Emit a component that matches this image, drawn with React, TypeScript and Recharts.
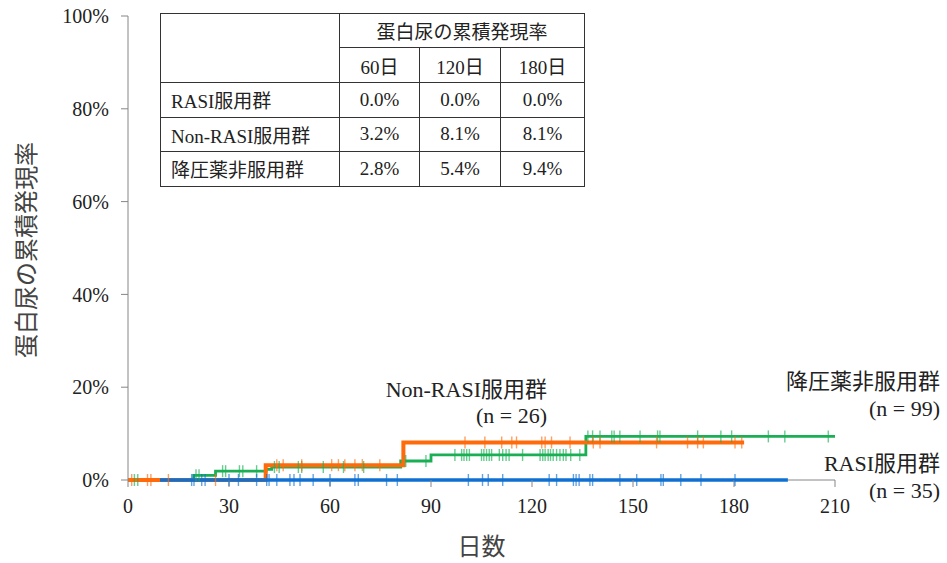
import React from 'react';
import { ComposedChart, Line, Scatter, XAxis, YAxis, Label } from 'recharts';

const FONT = "'Liberation Serif', 'Noto Sans CJK JP', serif";

// step curves: cumulative incidence (%) from each day onward
const rasiSteps = [
  { day: 9.5, pct: 0 },
  { day: 196, pct: 0 },
];
const nonRasiSteps = [
  { day: 0, pct: 0 },
  { day: 40.9, pct: 3.2 },
  { day: 81.8, pct: 8.1 },
  { day: 183, pct: 8.1 },
];
const noDrugSteps = [
  { day: 0, pct: 0 },
  { day: 19.5, pct: 1.0 },
  { day: 26, pct: 1.9 },
  { day: 41, pct: 2.3 },
  { day: 42.7, pct: 2.8 },
  { day: 81, pct: 4.1 },
  { day: 90, pct: 5.4 },
  { day: 136, pct: 9.4 },
  { day: 210, pct: 9.4 },
];

// censored observations (days)
const rasiCensor = [
  18.9, 19.6, 21.9, 22.9, 30.0, 32.8, 38.2, 41.2, 41.9, 44.2, 48.1, 49.3, 51.1, 55.0, 60.0, 67.4,
  68.4, 76.8, 80.0, 101.1, 105.3, 107.0, 111.3, 125.1, 127.3, 132.3, 133.1, 134.0, 137.2, 138.0,
  146.1, 151.1, 158.3, 159.0, 164.2, 170.2, 180.3,
];
const nonRasiCensor = [
  1.1, 5.8, 6.8, 12.0, 26.0, 44.2, 46.1, 51.6, 60.5, 62.5, 64.4, 67.4, 69.6, 74.8, 100.1, 106,
  111, 114, 115.4, 122.9, 123.9, 125.8, 131.3, 138.2, 140.2, 157, 166.2, 169.2, 170.9, 180.3, 182.3,
];
const noDrugCensor = [
  1.9, 2.9, 20.2, 21.1, 28.1, 29.0, 33.1, 34.1, 38.2, 43.5, 44.9, 50.6, 51.6, 58, 64, 70, 82.5,
  88.5, 97.1, 99.1, 99.8, 100.6, 101.4, 105.0, 105.7, 106.5, 107.3, 108.0, 110.3, 111.3, 112.3,
  113.2, 117.2, 122.4, 123.2, 123.9, 124.8, 125.5, 126.3, 127.3, 128.3, 129.3, 130.1, 131.5,
  134.2, 136.6, 138, 140.2, 143.7, 144.4, 146.1, 152.1, 157.3, 158.0, 169.2, 176.1, 179.3, 190.2,
  195.1, 208,
];

const xTicks = [0, 30, 60, 90, 120, 150, 180, 210];
const yTicks = [0, 20, 40, 60, 80, 100];
const baseline = [
  { day: 0, pct: 0 },
  { day: 210, pct: 0 },
];

// summary table
const tableTitle = '蛋白尿の累積発現率';
const tableDays = ['60日', '120日', '180日'];
const tableGroups = ['RASI服用群', 'Non-RASI服用群', '降圧薬非服用群'];
const tableRates = [
  ['0.0%', '0.0%', '0.0%'],
  ['3.2%', '8.1%', '8.1%'],
  ['2.8%', '5.4%', '9.4%'],
];

const BLUE = '#0f70d2';
const ORANGE = '#ff6a0a';
const GREEN = '#1aaf54';
const AXIS = '#868686';

const levelAt = (steps: { day: number; pct: number }[], day: number) => {
  let v = steps[0].pct;
  for (const s of steps) if (s.day <= day) v = s.pct;
  return v;
};

const censorPoints = (steps: { day: number; pct: number }[], days: number[]) =>
  days.map((d) => ({ day: d, pct: levelAt(steps, d) }));

const tickMark = (color: string) => (props: any) => {
  const { cx, cy } = props;
  return <line x1={cx} x2={cx} y1={cy - 6} y2={cy + 6} stroke={color} strokeWidth={1.4} strokeOpacity={0.65} />;
};

const cell: React.CSSProperties = {
  border: '1px solid #333',
  textAlign: 'center',
  padding: 0,
  fontSize: 19,
  color: '#222',
};

const note = (text: string, right: number, cy: number) => (
  <div
    style={{
      position: 'absolute',
      right,
      top: cy - 13,
      height: 26,
      lineHeight: '26px',
      fontSize: 22,
      color: '#222',
      whiteSpace: 'nowrap',
    }}
  >
    {text}
  </div>
);

export default function App() {
  const tickStyle = { fontSize: 20, fill: '#222', fontFamily: FONT };
  return (
    <div style={{ position: 'absolute', left: 0, top: 0, width: 947, height: 563, background: '#fff', fontFamily: FONT }}>
      <ComposedChart width={947} height={563} margin={{ top: 16, right: 112, bottom: 0, left: 0 }}>
        <XAxis
          type="number"
          dataKey="day"
          domain={[0, 210]}
          ticks={xTicks}
          height={83}
          tickSize={7}
          tickMargin={12}
          stroke={AXIS}
          axisLine={false}
          tick={tickStyle}
        >
          <Label
            content={(p: any) => (
              <text
                x={p.viewBox.x + p.viewBox.width / 2}
                y={547}
                textAnchor="middle"
                dominantBaseline="central"
                fontSize={24}
                fill="#444"
                fontFamily={FONT}
              >
                日数
              </text>
            )}
          />
        </XAxis>
        <YAxis
          type="number"
          dataKey="pct"
          domain={[0, 100]}
          ticks={yTicks}
          width={128}
          tickSize={7}
          tickMargin={12}
          stroke={AXIS}
          tick={tickStyle}
          tickFormatter={(v: number) => `${v}%`}
        >
          <Label
            content={(p: any) => {
              const cy = p.viewBox.y + p.viewBox.height / 2 + 2;
              return (
                <text
                  x={27}
                  y={cy}
                  transform={`rotate(-90 27 ${cy})`}
                  textAnchor="middle"
                  dominantBaseline="central"
                  fontSize={24}
                  fill="#444"
                  fontFamily={FONT}
                >
                  蛋白尿の累積発現率
                </text>
              );
            }}
          />
        </YAxis>
        {/* x axis baseline kept underneath the curves */}
        <Line data={baseline} dataKey="pct" stroke={AXIS} strokeWidth={1} dot={false} isAnimationActive={false} />
        <Line data={noDrugSteps} dataKey="pct" type="stepAfter" stroke={GREEN} strokeWidth={2.8} dot={false} isAnimationActive={false} />
        <Line data={nonRasiSteps} dataKey="pct" type="stepAfter" stroke={ORANGE} strokeWidth={4} dot={false} isAnimationActive={false} />
        <Line data={rasiSteps} dataKey="pct" type="stepAfter" stroke={BLUE} strokeWidth={3.6} dot={false} isAnimationActive={false} />
        <Scatter data={censorPoints(noDrugSteps, noDrugCensor)} dataKey="pct" shape={tickMark(GREEN)} isAnimationActive={false} />
        <Scatter data={censorPoints(nonRasiSteps, nonRasiCensor)} dataKey="pct" shape={tickMark(ORANGE)} isAnimationActive={false} />
        <Scatter data={censorPoints(rasiSteps, rasiCensor)} dataKey="pct" shape={tickMark(BLUE)} isAnimationActive={false} />
      </ComposedChart>

      <table
        style={{
          position: 'absolute',
          left: 160,
          top: 13,
          width: 424,
          borderCollapse: 'collapse',
          background: '#fff',
          fontFamily: FONT,
          tableLayout: 'fixed',
        }}
      >
        <colgroup>
          <col style={{ width: 179 }} />
          <col style={{ width: 80 }} />
          <col style={{ width: 81 }} />
          <col style={{ width: 84 }} />
        </colgroup>
        <tbody>
          <tr style={{ height: 34 }}>
            <td style={cell} rowSpan={2}></td>
            <td style={cell} colSpan={3}>
              {tableTitle}
            </td>
          </tr>
          <tr style={{ height: 35 }}>
            {tableDays.map((d) => (
              <td key={d} style={cell}>
                {d}
              </td>
            ))}
          </tr>
          {tableGroups.map((g, i) => (
            <tr key={g} style={{ height: 34.5 }}>
              <td style={{ ...cell, textAlign: 'left', paddingLeft: 10 }}>{g}</td>
              {tableRates[i].map((r, j) => (
                <td key={j} style={cell}>
                  {r}
                </td>
              ))}
            </tr>
          ))}
        </tbody>
      </table>

      {note('Non-RASI服用群', 400, 390)}
      {note('(n = 26)', 400, 416)}
      {note('降圧薬非服用群', 7, 382)}
      {note('(n = 99)', 7, 409)}
      {note('RASI服用群', 7, 464)}
      {note('(n = 35)', 7, 491)}
    </div>
  );
}
